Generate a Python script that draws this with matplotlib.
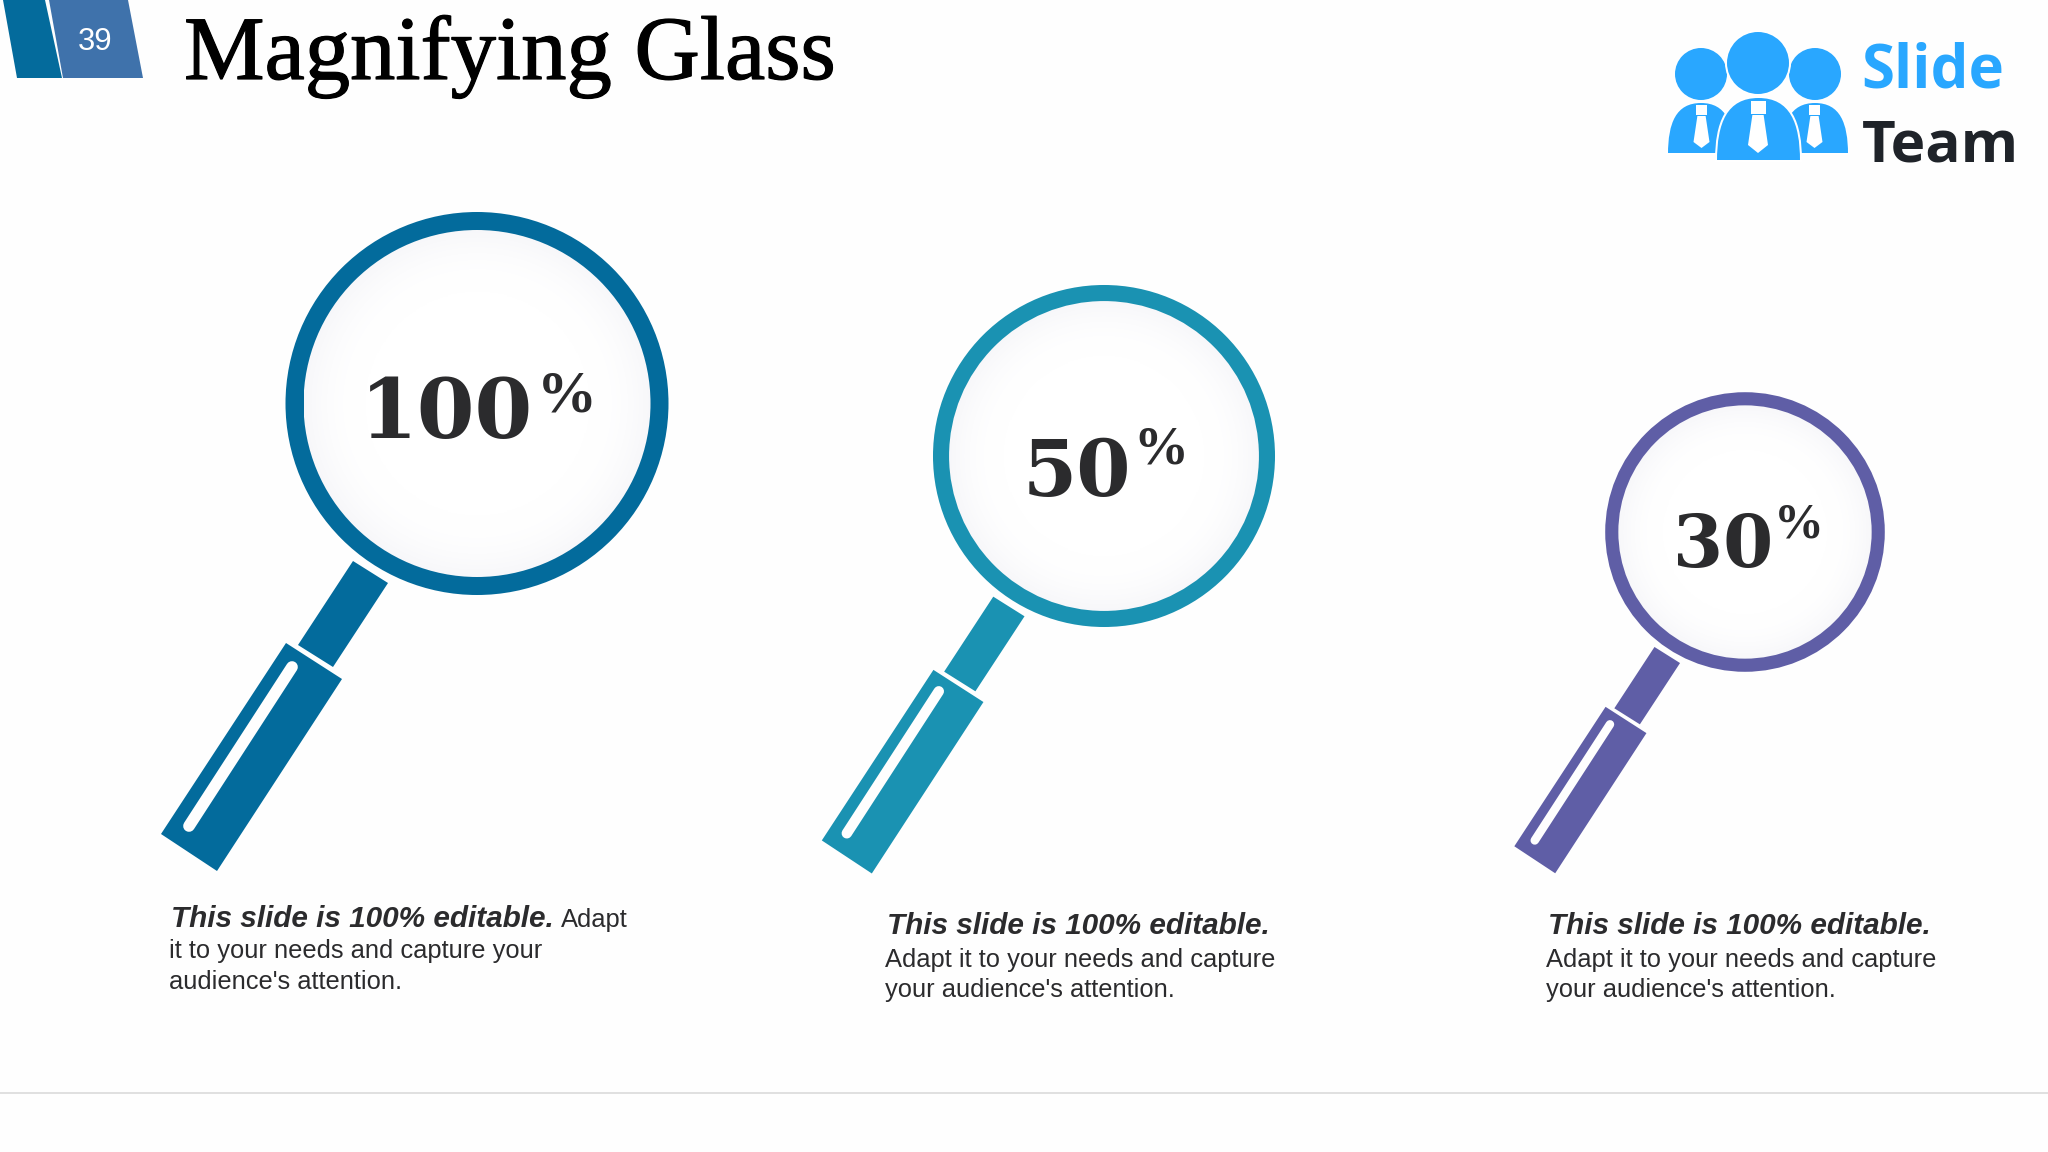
import numpy as np
import matplotlib
matplotlib.use("Agg")
import matplotlib.pyplot as plt
import matplotlib.patheffects as pe
from matplotlib.patches import Circle, Polygon, PathPatch
from matplotlib.path import Path

# --- chart content ---
title = "Magnifying Glass"
page_number = "39"
values = [100, 50, 30]
unit = "%"
colors = ["#036b9c", "#1a92b2", "#5f5ea6"]
bold_line = "This slide is 100% editable."

INK = "#2b2b2d"
fig = plt.figure(figsize=(20.48, 11.52), dpi=100, facecolor="#fefefe")
ax = fig.add_axes([0, 0, 1, 1])
ax.set_axis_off()


def px(p):
    return p * 72 / 100


# --- header ---
ax.add_patch(Polygon([(3, 0), (45, 0), (62, 78), (17, 78)], fc="#046b9c", ec="none"))
ax.add_patch(Polygon([(49, 0), (128, 0), (143, 78), (63, 78)], fc="#3f72ab", ec="none"))
ax.text(95, 50, page_number, color="white", fontsize=px(31), family="Liberation Sans",
        ha="center", va="baseline")
ax.text(184, 79, title, color="black", fontsize=px(90.6), family="Liberation Serif",
        ha="left", va="baseline",
        path_effects=[pe.withStroke(linewidth=px(1.2), foreground="black")])

# --- magnifiers: geometry of the largest, others scaled from it ---
NECK = np.array([(353, 561), (388, 583), (333, 667), (298, 645)], float) - (477, 403.5)
GRIP = np.array([(286, 643), (342, 679), (217, 871), (161, 834)], float) - (477, 403.5)
SLOT = np.array([(292, 667), (189, 826)], float) - (477, 403.5)
glass = [(477, 403.5, 1.0), (1104, 456, 0.893), (1745, 532, 0.73)]

yy, xx = np.mgrid[-1:1:300j, -1:1:300j]
rr = np.hypot(xx, yy)
shade = np.clip((rr - 0.65) / 0.35, 0, 1) ** 2
img = np.ones((300, 300, 3))
img[..., 0] = 1 - 0.03 * shade
img[..., 1] = 1 - 0.03 * shade
img[..., 2] = 1 - 0.02 * shade

for (cx, cy, s), col in zip(glass, colors):
    ax.add_patch(Circle((cx, cy), 191.5 * s, fc=col, ec="none", zorder=2))
    r = 173.5 * s
    im = ax.imshow(img, extent=(cx - r, cx + r, cy + r, cy - r), zorder=3, aspect="auto",
                   interpolation="bilinear")
    im.set_clip_path(Circle((cx, cy), r, transform=ax.transData))
    ax.add_patch(Polygon(NECK * s + (cx, cy), fc=col, ec="none", zorder=2))
    ax.add_patch(Polygon(GRIP * s + (cx, cy), fc=col, ec="none", zorder=2))
    sl = SLOT * s + (cx, cy)
    ax.plot(sl[:, 0], sl[:, 1], color="#fefefe", lw=px(11.7 * s), solid_capstyle="round", zorder=4)

# --- percentage labels (x centre, baseline, em px; % x centre, baseline, em px) ---
label_pos = [(446, 438, 83, 567, 411, 60), (1077, 496, 78, 1161, 463, 55), (1723, 567, 72, 1799, 538, 50)]
for v, (x, y, em, xp, yp, emp) in zip(values, label_pos):
    ax.text(x, y, str(v), color=INK, fontsize=px(em), family="DejaVu Serif", weight="bold",
            ha="center", va="baseline", zorder=5)
    ax.text(xp, yp, unit, color=INK, fontsize=px(emp), family="Liberation Serif", weight="bold",
            ha="center", va="baseline", zorder=5)

# --- captions ---
cap_kw = dict(color=INK, family="Liberation Sans", va="baseline", ha="left")
bold_kw = dict(cap_kw, weight="bold", style="italic", fontsize=px(29.7))
reg_kw = dict(cap_kw, fontsize=px(25.5))

ax.text(171, 927, bold_line, **bold_kw)
ax.text(561, 927, "Adapt", **reg_kw)
ax.text(169, 958, "it to your needs and capture your", **reg_kw)
ax.text(169, 989, "audience's attention.", **reg_kw)

for xb, xr in [(887, 885), (1548, 1546)]:
    ax.text(xb, 934, bold_line, **bold_kw)
    ax.text(xr, 967, "Adapt it to your needs and capture", **reg_kw)
    ax.text(xr, 997, "your audience's attention.", **reg_kw)

# --- footer rule ---
ax.plot([0, 2048], [1093, 1093], color="#d9d9d9", lw=px(1.6), zorder=1)


# --- logo ---
def body(x0, x1, ytop, ybot, col, zorder):
    xm = (x0 + x1) / 2
    w = x1 - x0
    verts = [(x0, ybot), (x0, ytop + 0.4 * (ybot - ytop)), (x0 + 0.12 * w, ytop), (xm, ytop),
             (x1 - 0.12 * w, ytop), (x1, ytop + 0.4 * (ybot - ytop)), (x1, ybot), (x0, ybot)]
    codes = [Path.MOVETO] + [Path.CURVE4] * 6 + [Path.CLOSEPOLY]
    ax.add_patch(PathPatch(Path(verts, codes), fc=col, ec="white", lw=px(2), zorder=zorder))


def tie(xc, top, knot_bot, side, wing_y, tip_y, k, z):
    ax.add_patch(Polygon([(xc - k, top), (xc + k, top), (xc + k, knot_bot), (xc - k, knot_bot)],
                         fc="white", ec="none", zorder=z))
    ax.add_patch(Polygon([(xc - k * 0.75, knot_bot + 1), (xc + k * 0.75, knot_bot + 1), (xc + side, wing_y),
                          (xc, tip_y), (xc - side, wing_y)], fc="white", ec="none", zorder=z))


BLUE = "#29a7ff"
body(1667, 1735, 102, 154, BLUE, 6)
body(1781, 1849, 102, 154, BLUE, 6)
body(1716, 1801, 97, 161, BLUE, 7)
ax.add_patch(Circle((1701, 74), 26, fc=BLUE, ec="none", zorder=6))
ax.add_patch(Circle((1815, 74), 26, fc=BLUE, ec="none", zorder=6))
ax.add_patch(Circle((1758, 63), 32, fc=BLUE, ec="white", lw=px(2), zorder=7))
tie(1701.5, 105, 115, 8, 142, 148, 5.5, 8)
tie(1814.5, 105, 115, 8, 142, 148, 5.5, 8)
tie(1758, 101, 114, 10, 145, 153, 7.5, 8)
ax.text(1861, 88, "Slide", color=BLUE, fontsize=px(60), family="Open Sans", weight="bold",
        ha="left", va="baseline", zorder=8)
ax.text(1862, 161, "Team", color="#1f2329", fontsize=px(58.5), family="Open Sans", weight="bold",
        ha="left", va="baseline", zorder=8)

ax.set_xlim(0, 2048)
ax.set_ylim(1152, 0)
fig.savefig("out.png", dpi=100, facecolor=fig.get_facecolor())
